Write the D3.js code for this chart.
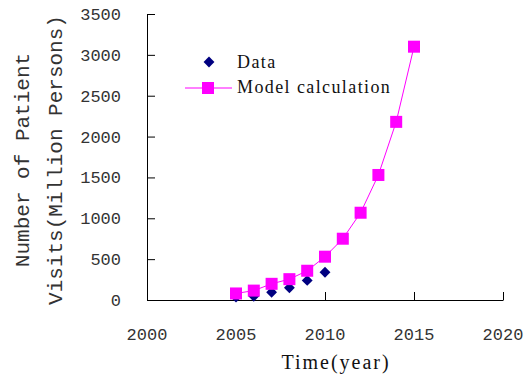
<!DOCTYPE html>
<html lang="en">
<head>
<meta charset="UTF-8" />
<title>Patient Visits</title>
<script src="https://cdn.jsdelivr.net/npm/d3@7"></script>
<style>
  body { margin: 0; background: #fff; }
  .tick-label { font-family: "Liberation Mono", monospace; font-size: 17px; fill: #333; }
  .ytitle { font-family: "Liberation Mono", monospace; font-size: 21px; fill: #333; }
  .serif { font-family: "Liberation Serif", "Times New Roman", serif; font-size: 18px; letter-spacing: 1.4px; fill: #111; }
</style>
</head>
<body>
<script>
// observed data
var dataYears = [2005, 2006, 2007, 2008, 2009, 2010];
var dataValues = [35, 45, 95, 150, 240, 340];

// model calculation
var modelYears = [2005, 2006, 2007, 2008, 2009, 2010, 2011, 2012, 2013, 2014, 2015];
var modelValues = [80, 115, 198, 255, 358, 530, 750, 1068, 1530, 2180, 3100];

var xTicks = [2000, 2005, 2010, 2015, 2020];
var yTicks = [0, 500, 1000, 1500, 2000, 2500, 3000, 3500];

var w = 526, h = 376;
var margin = { top: 14, right: 23, bottom: 76, left: 147 };

var svg = d3.select("body").append("svg")
  .attr("width", w)
  .attr("height", h);

var xScale = d3.scaleLinear()
  .domain([2000, 2020])
  .range([margin.left, w - margin.right]);

var yScale = d3.scaleLinear()
  .domain([0, 3500])
  .range([h - margin.bottom, margin.top]);

var x0 = margin.left, y0 = h - margin.bottom;

// axes, ticks pointing into the plot
var xAxis = d3.axisBottom(xScale).tickValues(xTicks).tickSizeInner(-8).tickSizeOuter(0).tickFormat("");
var yAxis = d3.axisLeft(yScale).tickValues(yTicks).tickSizeInner(-8).tickSizeOuter(0).tickFormat("");

svg.append("g")
  .attr("transform", "translate(0," + y0 + ")")
  .call(xAxis)
  .call(function(g) { g.selectAll("path, line").attr("stroke", "#000"); });

svg.append("g")
  .attr("transform", "translate(" + x0 + ",0)")
  .call(yAxis)
  .call(function(g) { g.selectAll("path, line").attr("stroke", "#000"); });

// tick labels
svg.selectAll(".xlab").data(xTicks).enter().append("text")
  .attr("class", "tick-label")
  .attr("x", function(d) { return xScale(d); })
  .attr("y", 340)
  .attr("text-anchor", "middle")
  .text(function(d) { return d; });

svg.selectAll(".ylab").data(yTicks).enter().append("text")
  .attr("class", "tick-label")
  .attr("x", 121)
  .attr("y", function(d) { return yScale(d) + 6; })
  .attr("text-anchor", "end")
  .text(function(d) { return d; });

// axis titles
svg.append("text")
  .attr("class", "serif")
  .attr("x", 336)
  .attr("y", 369)
  .attr("text-anchor", "middle")
  .style("font-size", "20px")
  .style("letter-spacing", "2px")
  .text("Time(year)");

var yt = svg.append("text")
  .attr("class", "ytitle")
  .attr("transform", "translate(29,160) rotate(-90)")
  .attr("text-anchor", "middle");
yt.append("tspan").attr("x", 0).attr("y", 0).text("Number of Patient");
yt.append("tspan").attr("x", 0).attr("y", 33).text("Visits(Million Persons)");

// model line
var line = d3.line()
  .x(function(d, i) { return xScale(modelYears[i]); })
  .y(function(d) { return yScale(d); });

svg.append("path")
  .datum(modelValues)
  .attr("d", line)
  .attr("fill", "none")
  .attr("stroke", "#ff00ff")
  .attr("stroke-width", 1);

// data diamonds (drawn under the squares)
var diamond = d3.symbol().type(d3.symbolDiamond2).size(75);

svg.selectAll(".diamond").data(dataValues).enter().append("path")
  .attr("d", diamond)
  .attr("transform", function(d, i) {
    return "translate(" + xScale(dataYears[i]) + "," + yScale(d) + ")";
  })
  .attr("fill", "#000080");

var sq = 12;
svg.selectAll(".square").data(modelValues).enter().append("rect")
  .attr("x", function(d, i) { return xScale(modelYears[i]) - sq / 2; })
  .attr("y", function(d) { return yScale(d) - sq / 2; })
  .attr("width", sq)
  .attr("height", sq)
  .attr("fill", "#ff00ff");

// legend
svg.append("path")
  .attr("d", diamond)
  .attr("transform", "translate(209,62)")
  .attr("fill", "#000080");
svg.append("text")
  .attr("class", "serif")
  .attr("x", 237)
  .attr("y", 68)
  .text("Data");

svg.append("line")
  .attr("x1", 185).attr("x2", 232)
  .attr("y1", 88).attr("y2", 88)
  .attr("stroke", "#ff00ff");
svg.append("rect")
  .attr("x", 202).attr("y", 82)
  .attr("width", sq).attr("height", sq)
  .attr("fill", "#ff00ff");
svg.append("text")
  .attr("class", "serif")
  .attr("x", 237)
  .attr("y", 93)
  .text("Model calculation");
</script>
</body>
</html>
